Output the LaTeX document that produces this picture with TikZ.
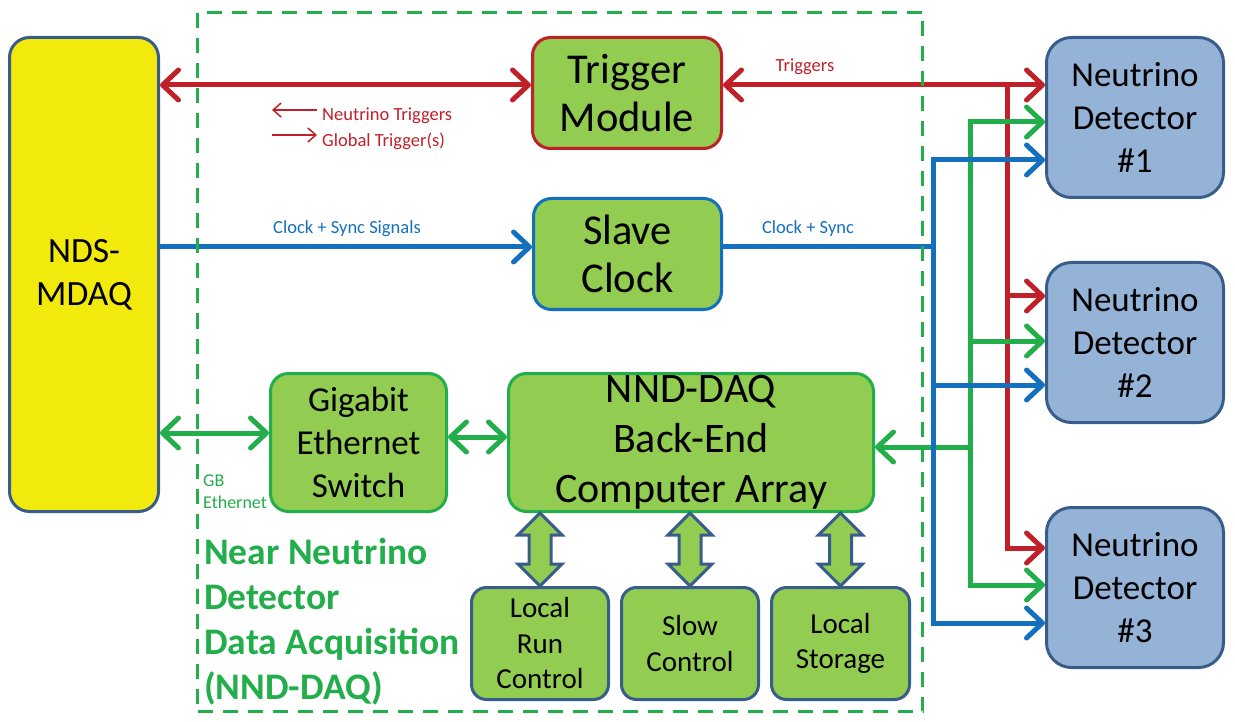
\documentclass[tikz,border=0pt]{standalone}
\usepackage{fontspec}
\setmainfont{Carlito}
\usetikzlibrary{arrows.meta,calc}
\definecolor{cred}{RGB}{192,32,40}
\definecolor{cgreen}{RGB}{34,174,74}
\definecolor{cblue}{RGB}{18,112,190}
\definecolor{lgreen}{RGB}{146,204,80}
\definecolor{dblue}{RGB}{56,93,138}
\definecolor{lblue}{RGB}{149,179,215}
\definecolor{yel}{RGB}{242,234,12}
\tikzset{
  barb/.tip={Straight Barb[length=16pt,width=30pt,round]},
  lbarb/.tip={Straight Barb[length=8pt,width=14pt]},
  box/.style={draw, line width=3pt, rounded corners=18pt, align=center, inner sep=0pt, anchor=north west, text=black},
  gbox/.style={box, fill=lgreen},
  rline/.style={draw=cred, line width=5pt},
  gline/.style={draw=cgreen, line width=5pt},
  bline/.style={draw=cblue, line width=5pt},
  lbl/.style={inner sep=0pt, font=\fontsize{18.5}{22}\selectfont},
  barrow/.style={draw=dblue, fill=lgreen, line width=3pt, line join=miter},
}
\newcommand\blockarr[2]{\draw[barrow] (#1) -- ++(22,22) -- ++(-11,0) -- ($(#2)+(11,-22)$) -- ++(11,0) -- (#2) -- ++(-22,-22) -- ++(11,0) -- ($(#1)+(-11,22)$) -- ++(-11,0) -- cycle;}
\begin{document}
\begin{tikzpicture}[x=1pt,y=-1pt]
\useasboundingbox (0,0) rectangle (1235,722);
% main nodes
\node[box, fill=yel, draw=dblue, rounded corners=20pt, minimum width=149pt, minimum height=474pt,
  font=\fontsize{35.5}{43}\selectfont] (mdaq) at (8,36) {NDS-\\MDAQ};
\node[gbox, draw=cred, minimum width=189pt, minimum height=111pt,
  font=\fontsize{42.5}{48}\selectfont] (trig) at (531,36) {Trigger\\Module};
\node[gbox, draw=cblue, minimum width=188pt, minimum height=111pt,
  font=\fontsize{42.5}{48}\selectfont] (clk) at (532,197) {Slave\\Clock};
\node[gbox, draw=cgreen, minimum width=176pt, minimum height=138pt,
  font=\fontsize{35}{43}\selectfont] (gig) at (269,372) {Gigabit\\Ethernet\\Switch};
\node[gbox, draw=cgreen, minimum width=365pt, minimum height=138pt,
  font=\fontsize{42}{50}\selectfont] (nnd) at (507,372) {NND-DAQ\\Back-End\\Computer Array};
\node[gbox, draw=dblue, rounded corners=15pt, minimum width=137pt, minimum height=112pt,
  font=\fontsize{29}{35.5}\selectfont] (lrc) at (470,586) {Local\\Run\\Control};
\node[gbox, draw=dblue, rounded corners=15pt, minimum width=137pt, minimum height=112pt,
  font=\fontsize{29}{35.5}\selectfont] (slow) at (620,586) {Slow\\Control};
\node[gbox, draw=dblue, rounded corners=15pt, minimum width=138pt, minimum height=112pt,
  font=\fontsize{29}{35.5}\selectfont] (stor) at (770,586) {Local\\Storage};
\node[box, fill=lblue, draw=dblue, rounded corners=25pt, minimum width=177pt, minimum height=160pt,
  font=\fontsize{35}{43}\selectfont] (det1) at (1045,36) {Neutrino\\Detector\\\#1};
\node[box, fill=lblue, draw=dblue, rounded corners=25pt, minimum width=177pt, minimum height=160pt,
  font=\fontsize{35}{43}\selectfont] (det2) at (1045,261) {Neutrino\\Detector\\\#2};
\node[box, fill=lblue, draw=dblue, rounded corners=25pt, minimum width=177pt, minimum height=160pt,
  font=\fontsize{35}{43}\selectfont] (det3) at (1045,506) {Neutrino\\Detector\\\#3};
% bus coordinates
\coordinate (rbus) at (1007,85);
\coordinate (gbus) at (970,122);
\coordinate (bbus) at (933,160);
\coordinate (ry2) at (0,296);
\coordinate (ry3) at (0,548);
\coordinate (gy2) at (0,341);
\coordinate (gy3) at (0,585);
\coordinate (gy4) at (0,447);
\coordinate (gy5) at (0,433);
\coordinate (gy6) at (0,437);
\coordinate (by0) at (0,247);
\coordinate (by2) at (0,385);
\coordinate (by3) at (0,623);
% red
\draw[rline, barb-barb] (mdaq.east |- rbus) -- (trig.west |- rbus);
\draw[rline, barb-barb] (trig.east |- rbus) -- (det1.west |- rbus);
\draw[rline, -barb] (rbus) -- (rbus |- ry3) -- (det3.west |- ry3);
\draw[rline, -barb] (rbus |- ry2) -- (det2.west |- ry2);
% green
\draw[gline, barb-barb] (det1.west |- gbus) -- (gbus) -- (gbus |- gy3) -- (det3.west |- gy3);
\draw[gline, -barb] (gbus |- gy2) -- (det2.west |- gy2);
\draw[gline, -barb] (gbus |- gy4) -- (nnd.east |- gy4);
\draw[gline, barb-barb] (mdaq.east |- gy5) -- (gig.west |- gy5);
\draw[gline, barb-barb] (gig.east |- gy6) -- (nnd.west |- gy6);
% blue
\draw[bline, barb-barb] (det1.west |- bbus) -- (bbus) -- (bbus |- by3) -- (det3.west |- by3);
\draw[bline, -barb] (bbus |- by2) -- (det2.west |- by2);
\draw[bline] (clk.east |- by0) -- (bbus |- by0);
\draw[bline, -barb] (mdaq.east |- by0) -- (clk.west |- by0);
% block arrows
\coordinate (t1) at (lrc.north |- nnd.south);
\coordinate (t2) at (slow.north |- nnd.south);
\coordinate (t3) at (stor.north |- nnd.south);
\blockarr{t1}{lrc.north}
\blockarr{t2}{slow.north}
\blockarr{t3}{stor.north}
% labels
\node[lbl, text=cred] (ltrig) at (805,67) {Triggers};
\node[lbl, text=cblue] (lcss) at (347,229) {Clock + Sync Signals};
\node[lbl, text=cblue] (lcs) at (808,229) {Clock + Sync};
\node[lbl, text=cred, anchor=west] (leg1) at (322,116) {Neutrino Triggers};
\node[lbl, text=cred, anchor=west] (leg2) at (322,141) {Global Trigger(s)};
\draw[cred, line width=1.5pt, -lbarb] ([xshift=-5pt,yshift=6pt]leg1.west) -- ++(-45,0);
\draw[cred, line width=1.5pt, -lbarb] ([xshift=-50pt,yshift=6pt]leg2.west) -- ++(45,0);
\node[lbl, text=cgreen, align=left, anchor=north west, font=\fontsize{18}{22}\selectfont] (lgb) at (203,475) {GB\\Ethernet};
\node[inner sep=0pt, text=cgreen, align=left, anchor=north west, font=\bfseries\fontsize{37.5}{45}\selectfont] (title) at (204,538) {Near Neutrino\\Detector\\Data Acquisition\\(NND-DAQ)};
% frame
\node[draw=cgreen, line width=3pt, dash pattern=on 15pt off 10pt, minimum width=725pt, minimum height=699pt, anchor=north west, inner sep=0pt] (frame) at (196,11) {};
\end{tikzpicture}
\end{document}
